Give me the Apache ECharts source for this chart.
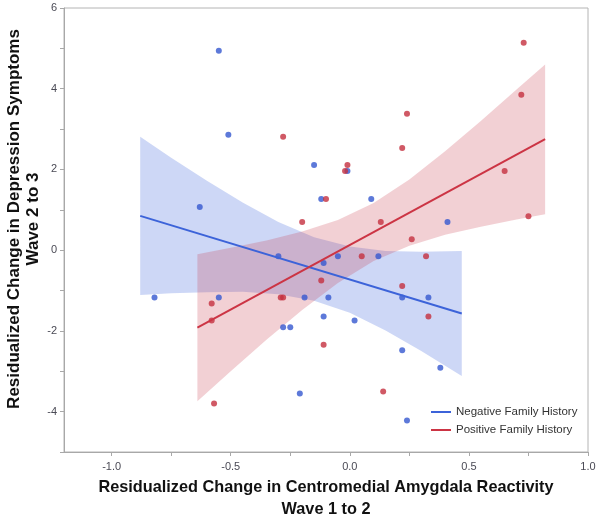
<!DOCTYPE html>
<html>
<head>
<meta charset="utf-8">
<script src="https://cdn.jsdelivr.net/npm/echarts@6/dist/echarts.min.js"></script>
<style>html,body{margin:0;padding:0;background:#fff}#main{width:601px;height:516px}</style>
</head>
<body>
<div id="main"></div>
<script>
// Negative family history (blue) scatter points
const negX = [-0.55,-0.51,-0.63,-0.15,-0.12,-0.01,0.09,0.41,-0.82,-0.55,-0.30,-0.19,-0.09,-0.11,-0.05,0.12,0.22,0.33,-0.28,-0.25,-0.11,0.02,0.22,0.38,-0.21,0.24];
const negY = [4.94,2.86,1.07,2.11,1.27,1.96,1.27,0.70,-1.17,-1.17,-0.15,-1.17,-1.17,-0.32,-0.15,-0.15,-1.17,-1.17,-1.91,-1.91,-1.64,-1.74,-2.48,-2.91,-3.55,-4.22];
// Positive family history (red) scatter points
const posX = [0.73,0.72,0.24,0.22,-0.01,-0.02,-0.10,0.65,0.75,0.13,-0.20,-0.28,0.26,0.05,0.32,-0.12,0.22,0.33,-0.11,0.14,-0.57,-0.58,-0.58,-0.29,-0.28];
const posY = [5.14,3.85,3.38,2.53,2.11,1.96,1.27,1.96,0.84,0.70,0.70,2.81,0.27,-0.15,-0.15,-0.75,-0.89,-1.64,-2.34,-3.50,-3.80,-1.32,-1.74,-1.17,-1.17];
// Fit lines
const negLineX = [-0.88, 0.47];
const negLineY = [0.85, -1.57];
const posLineX = [-0.64, 0.82];
const posLineY = [-1.92, 2.75];
// Confidence bands
const negBandX = [-0.88,-0.75,-0.60,-0.45,-0.30,-0.15,0.00,0.15,0.30,0.47];
const negBandUpper = [2.81,2.29,1.72,1.18,0.70,0.32,0.09,-0.02,-0.04,-0.02];
const negBandLower = [-1.11,-1.07,-1.04,-1.03,-1.09,-1.25,-1.55,-1.99,-2.50,-3.12];
const posBandX = [-0.64,-0.50,-0.35,-0.20,-0.05,0.10,0.25,0.40,0.55,0.70,0.82];
const posBandUpper = [-0.10,0.06,0.24,0.46,0.75,1.17,1.75,2.45,3.20,3.98,4.60];
const posBandLower = [-3.74,-3.00,-2.22,-1.48,-0.81,-0.27,0.11,0.38,0.58,0.76,0.89];
// Axis ticks
const xTicks = [-1.0,-0.75,-0.5,-0.25,0,0.25,0.5,0.75,1.0];
const xLabels = [-1.0,-0.5,0,0.5,1.0];
const yTicks = [-5,-4,-3,-2,-1,0,1,2,3,4,5,6];
const yLabels = [-4,-2,0,2,4,6];
const legendNames = ['Negative Family History','Positive Family History'];

const BLUE = '#3c63d9', RED = '#cc3444';
const BLUE_PT = '#3558cf', RED_PT = '#c4303e';

function zip(a,b){return a.map((v,i)=>[v,b[i]]);}
function band(xs, up, lo, fill, name){
  return {
    type:'custom', name:name, z:1, silent:true,
    data: xs.map((x,i)=>[x, up[i], lo[i]]),
    encode:{x:0, y:[1,2]},
    renderItem:function(params, api){
      if (params.dataIndex !== 0) return null;
      const pts = [];
      for (let i=0;i<xs.length;i++) pts.push(api.coord([xs[i], up[i]]));
      for (let i=xs.length-1;i>=0;i--) pts.push(api.coord([xs[i], lo[i]]));
      return {type:'polygon', shape:{points:pts}, style:{fill:fill}};
    }
  };
}

const chart = echarts.init(document.getElementById('main'));
chart.setOption({
  animation:false,
  backgroundColor:'#fff',
  grid:{left:64, right:13, top:8, bottom:64, show:true, borderColor:'#b4b4b4', borderWidth:1,
    containLabel:false, outerBoundsMode:'none'},
  legend:{
    data:legendNames, orient:'vertical', left:426, top:400,
    icon:'rect', itemWidth:20, itemHeight:2, itemGap:4, itemTextGap:4,
    textStyle:{fontFamily:'Liberation Sans', fontSize:11.5, color:'#333', lineHeight:14}
  },
  xAxis:{
    type:'value', min:-1.2, max:1.0,
    axisLine:{show:true, onZero:false, lineStyle:{color:'#a8a8a8'}},
    axisTick:{show:true, length:4, customValues:xTicks, lineStyle:{color:'#a8a8a8'}},
    axisLabel:{customValues:xLabels, margin:9, color:'#4a4a55', fontFamily:'Liberation Sans', fontSize:11,
      formatter:v=>v.toFixed(1)},
    splitLine:{show:false},
    name:'Residualized Change in Centromedial Amygdala Reactivity\nWave 1 to 2',
    nameLocation:'middle', nameGap:22,
    nameTextStyle:{fontFamily:'Liberation Sans', fontWeight:'bold', fontSize:16.3, color:'#111', lineHeight:22}
  },
  yAxis:{
    type:'value', min:-5, max:6,
    axisLine:{show:true, onZero:false, lineStyle:{color:'#a8a8a8'}},
    axisTick:{show:true, length:4, customValues:yTicks, lineStyle:{color:'#a8a8a8'}},
    axisLabel:{customValues:yLabels, margin:7, color:'#4a4a55', fontFamily:'Liberation Sans', fontSize:11},
    splitLine:{show:false},
    name:'Residualized Change in Depression Symptoms\nWave 2 to 3',
    nameLocation:'middle', nameGap:21, nameMoveOverlap:false,
    nameTextStyle:{fontFamily:'Liberation Sans', fontWeight:'bold', fontSize:17, color:'#111', lineHeight:19,
      padding:[0,0,0,22]}
  },
  series:[
    band(negBandX, negBandUpper, negBandLower, 'rgba(60,100,220,0.26)', 'negBand'),
    band(posBandX, posBandUpper, posBandLower, 'rgba(200,50,70,0.23)', 'posBand'),
    {type:'scatter', name:'negPts', z:3, data:zip(negX,negY), symbolSize:6, itemStyle:{color:BLUE_PT}},
    {type:'scatter', name:'posPts', z:3, data:zip(posX,posY), symbolSize:6, itemStyle:{color:RED_PT}},
    {type:'line', name:legendNames[0], z:4, data:zip(negLineX,negLineY), showSymbol:false, symbol:'none',
      lineStyle:{color:BLUE, width:2}, itemStyle:{color:BLUE}},
    {type:'line', name:legendNames[1], z:4, data:zip(posLineX,posLineY), showSymbol:false, symbol:'none',
      lineStyle:{color:RED, width:2}, itemStyle:{color:RED}}
  ]
});
</script>
</body>
</html>
